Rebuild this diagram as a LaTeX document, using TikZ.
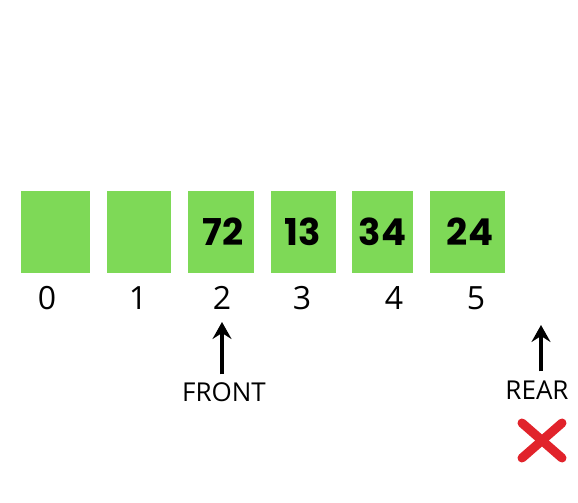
\documentclass[tikz,border=0pt]{standalone}
\usepackage{fontspec}
\setmainfont{Open Sans}
\newfontfamily\valfont{Poppins}
\usepackage{tikz}
\usetikzlibrary{arrows.meta,positioning}

\definecolor{cellgreen}{HTML}{7ED957}
\definecolor{crossred}{HTML}{E1232B}

\begin{document}
\begin{tikzpicture}[x=1pt, y=-1pt,
          cell/.style={rectangle, fill=cellgreen, minimum height=82pt, inner sep=0pt,
                       font=\valfont\bfseries\fontsize{37}{37}\selectfont},
          idx/.style={font=\fontsize{32}{32}\selectfont, inner sep=0pt},
          tag/.style={font=\fontsize{26}{26}\selectfont, inner sep=0pt},
          ptr/.style={-{Stealth[length=17pt,width=19pt,inset=6pt]}, line width=4pt}]

          \useasboundingbox[fill=white] (0,0) rectangle (578,503);

          % array cells
          \node[cell, minimum width=69pt] (c0) at (55.5,232) {};
          \node[cell, minimum width=64pt] (c1) at (139,232) {};
          \node[cell, minimum width=66pt] (c2) at (221,232) {\hspace{4pt}72};
          \node[cell, minimum width=65pt] (c3) at (303,232) {13\hspace{14pt}};
          \node[cell, minimum width=61pt] (c4) at (382.5,232) {34};
          \node[cell, minimum width=75pt] (c5) at (467.5,232) {\hspace{5pt}24};

          % indices
          \node[idx] (i0) at (47,298) {0};
          \node[idx] (i1) at (138,298) {1};
          \node[idx] (i2) at (222,298) {2};
          \node[idx] (i3) at (302,298) {3};
          \node[idx] (i4) at (394,298) {4};
          \node[idx] (i5) at (476,298) {5};

          % pointers
          \node[tag] (front) at (224,392) {FRONT};
          \node[tag] (rear) at (537,390) {REAR};
          \coordinate (fronthead) at (222,322);
          \coordinate (rearhead) at (541,325);
          \draw[ptr] (front.north -| fronthead) ++(0,-8) -- (fronthead);
          \draw[ptr] (rear.north -| rearhead) ++(0,-9) -- (rearhead);

          % rear is invalid
          \draw[crossred, line width=9pt, line cap=round] (522,423) -- (562,458);
          \draw[crossred, line width=9pt, line cap=round] (562,423) -- (522,458);
        \end{tikzpicture}
\end{document}
